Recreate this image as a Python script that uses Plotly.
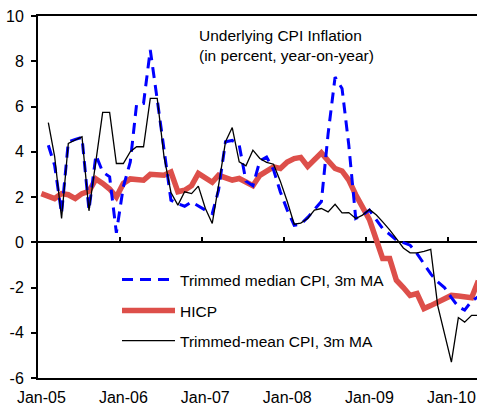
import pandas as pd
import plotly.graph_objects as go

# monthly data from Jan-05 to May-10
months = pd.date_range('2005-01-01', periods=65, freq='MS')

hicp = [2.15, 2.0, 1.93, 2.15, 2.1, 1.93, 2.15, 2.25, 2.8, 2.6,
        2.35, 2.0, 2.6, 2.8, 2.8, 2.74, 3.0, 2.96, 2.96, 3.1,
        2.23, 2.3, 2.5, 3.04, 2.85, 2.65, 2.96, 2.85, 2.75, 2.82,
        2.65, 2.5, 2.96, 3.15, 3.33, 3.26, 3.55, 3.7, 3.75, 3.35,
        3.65, 3.95, 3.6, 3.26, 3.15, 2.75, 2.1, 1.6, 1.0, 0.1,
        -0.72, -0.72, -1.68, -2.0, -2.35, -2.27, -2.93, -2.8, -2.65, -2.5,
        -2.35, -2.38, -2.42, -2.45, -1.7]

trimmed_median = [None, 4.29, 3.4, 1.27, 4.44, 4.55, 4.63, 1.42, 3.85, 3.11,
                  2.89, 0.42, 2.45, 3.55, 6.1, 6.14, 8.5, 6.3, 4.1, 1.86,
                  1.7, 1.59, 1.78, 1.6, 1.42, 1.27, 2.3, 4.44, 4.5, 4.3,
                  2.7, 2.5, 3.6, 3.77, 3.2, 2.23, 1.42, 0.75, 0.8, 1.1,
                  1.42, 1.8, 4.8, 7.3, 6.8, 4.3, 1.05, 1.19, 1.42, 1.0,
                  0.6, 0.35, 0.1, -0.02, -0.13, -0.5, -0.95, -1.4, -1.75, -2.0,
                  -2.45, -2.85, -3.0, -2.6, -2.4]

trimmed_mean = [None, 5.29, 3.8, 1.05, 4.37, 4.52, 4.66, 1.39, 3.6, 5.74,
                5.74, 3.48, 3.48, 4.0, 4.22, 4.22, 6.36, 6.36, 3.8, 2.2,
                1.64, 2.23, 2.15, 2.48, 1.5, 0.83, 2.5, 4.44, 5.07, 3.55,
                3.38, 4.07, 3.7, 3.53, 3.45, 2.7, 1.8, 0.8, 0.85, 1.05,
                1.42, 1.49, 1.34, 1.68, 1.3, 1.31, 1.05, 1.2, 1.45, 1.2,
                0.9, 0.55, 0.16, -0.25, -0.47, -0.47, -0.4, -0.31, -2.8, -3.97,
                -5.3, -3.33, -3.53, -3.23, -3.23]

year_ticks = ['2005-01-01', '2006-01-01', '2007-01-01', '2008-01-01', '2009-01-01', '2010-01-01']
y_ticks = [-6, -4, -2, 0, 2, 4, 6, 8, 10]
y_tick_text = ['-6', '-4', '-2', '0', '2', '4', '6', '8', '10']

# points sit in the middle of each month
x = months + pd.Timedelta(days=15)
label_pos = pd.to_datetime(year_ticks) + pd.Timedelta(days=15)

font = 'Liberation Sans, Arial, sans-serif'

fig = go.Figure()
fig.add_trace(go.Scatter(
    x=x, y=hicp, mode='lines', name='HICP',
    line=dict(color='#DD4F4A', width=5.5), legend='legend2'
))
fig.add_trace(go.Scatter(
    x=x, y=trimmed_median, mode='lines', name='Trimmed median CPI, 3m MA',
    line=dict(color='#0000FF', width=3, dash='11px,7px'), legend='legend'
))
fig.add_trace(go.Scatter(
    x=x, y=trimmed_mean, mode='lines', name='Trimmed-mean CPI, 3m MA',
    line=dict(color='black', width=1.3), legend='legend3',
    xaxis='x2'
))

x_range = ['2005-01-01', '2010-05-10']


def legend_box(ypix):
    # one legend per series, placed by the pixel row of its entry
    return dict(
        x=(117 - 38) / 439, y=(378 - ypix) / 362, xanchor='left', yanchor='middle',
        bgcolor='rgba(0,0,0,0)', font=dict(size=15.5), itemwidth=53
    )


fig.update_layout(
    width=477, height=407,
    margin=dict(l=38, r=0, t=16, b=29),
    plot_bgcolor='white', paper_bgcolor='white',
    font=dict(family=font, size=16, color='black'),
    showlegend=True,
    legend=legend_box(280),
    legend2=legend_box(311),
    legend3=legend_box(341),
    xaxis=dict(
        type='date', range=x_range,
        tickvals=label_pos, tickformat='%b-%y', ticks='',
        showline=True, linecolor='black', linewidth=1.5, mirror=True,
        showgrid=False, zeroline=False, ticklabelstandoff=4,
        tickfont=dict(size=16)
    ),
    xaxis2=dict(
        type='date', overlaying='x', matches='x', anchor='free', position=0.375,
        side='bottom', tickvals=year_ticks, ticks='inside', ticklen=5,
        tickwidth=2, tickcolor='black', showticklabels=False,
        showline=False, showgrid=False, zeroline=False
    ),
    yaxis=dict(
        range=[-6, 10], tickvals=y_ticks, ticktext=y_tick_text,
        ticks='outside', ticklen=5, tickwidth=2, tickcolor='black',
        showline=True, linecolor='black', linewidth=2,
        showgrid=False, zeroline=True, zerolinecolor='black', zerolinewidth=2,
        ticklabelstandoff=4, tickfont=dict(size=16)
    ),
    annotations=[dict(
        text='Underlying CPI Inflation<br>(in percent, year-on-year)',
        xref='paper', yref='paper', x=0.362, y=0.975,
        xanchor='left', yanchor='top', align='left',
        showarrow=False, font=dict(size=15.5)
    )]
)

# the page body has a default margin; drop it so the chart fills the window
fig.write_html('out.html', config={'displayModeBar': False},
               post_script="document.body.style.margin='0';")
